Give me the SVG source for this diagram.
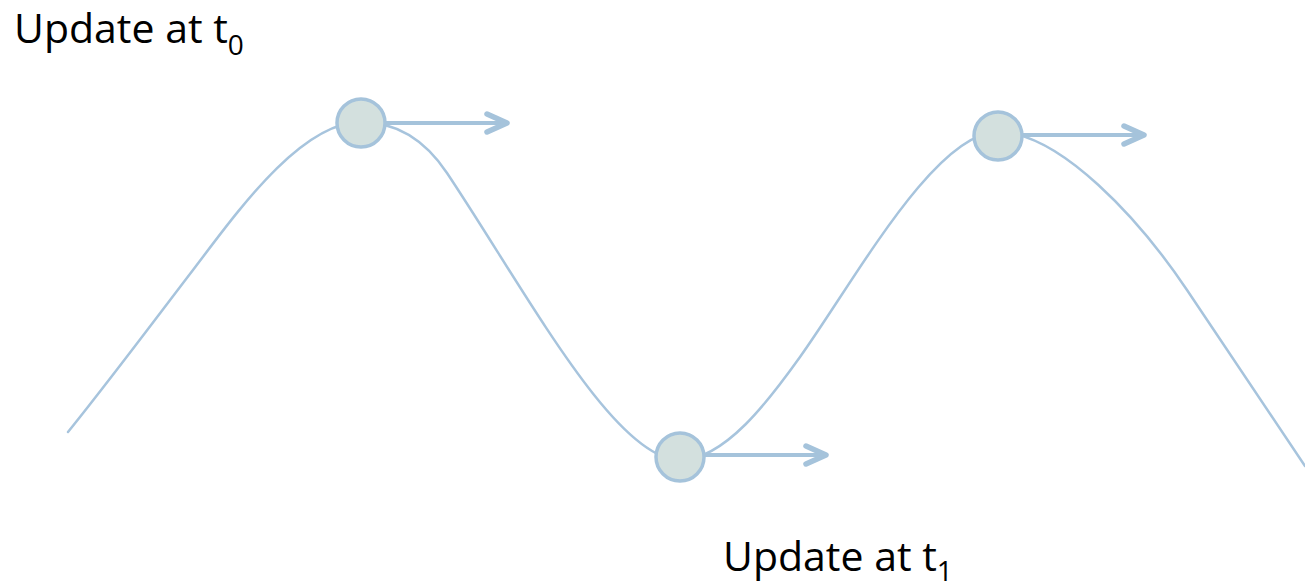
<svg xmlns="http://www.w3.org/2000/svg" width="1305" height="588" viewBox="0 0 1305 588">
  <style>
    .wave { fill: none; stroke: #A7C4DD; stroke-width: 2.5; stroke-linecap: round; }
    .dot { fill: #D3E0DE; stroke: #A5C3DB; stroke-width: 3.5; }
    .shaft { fill: none; stroke: #A5C3DB; stroke-width: 4; }
    .head { fill: none; stroke: #A5C3DB; stroke-width: 5.5; stroke-linecap: round; stroke-linejoin: round; }
    .label { font-family: "Open Sans", "Liberation Sans", sans-serif; font-size: 41px; fill: #000; }
    .sub { font-size: 28px; }
  </style>

  <!-- the function curve -->
  <g id="connectors">
    <path class="wave" d="M68,432 C110,380 160,313 193,270 C235,215 300,122 361,122 C400,122 427,143 447,173 C527,293 615,460 680,460 C725,460 770,399 800,357 C855,280 935,132 998,132 C1060,132 1140,220 1187,290 L1305,466"/>
  </g>

  <!-- update points with their step direction -->
  <g id="point-t0">
    <circle class="dot" cx="361" cy="123" r="24"/>
    <line class="shaft" x1="385" y1="123" x2="506" y2="123"/>
    <polyline class="head" points="487,114 507,123 487,132"/>
  </g>
  <g id="point-t1">
    <circle class="dot" cx="680" cy="457" r="24"/>
    <line class="shaft" x1="704" y1="455" x2="825" y2="455"/>
    <polyline class="head" points="806,446 826,455 806,464"/>
  </g>
  <g id="point-t2">
    <circle class="dot" cx="998" cy="136" r="24"/>
    <line class="shaft" x1="1022" y1="135" x2="1143" y2="135"/>
    <polyline class="head" points="1124,126 1144,135 1124,144"/>
  </g>

  <g id="label-t0">
    <text class="label" x="14" y="43">Update at t<tspan class="sub" dy="12">0</tspan></text>
  </g>
  <g id="label-t1">
    <text class="label" x="723" y="571">Update at t<tspan class="sub" dy="10">1</tspan></text>
  </g>
</svg>
